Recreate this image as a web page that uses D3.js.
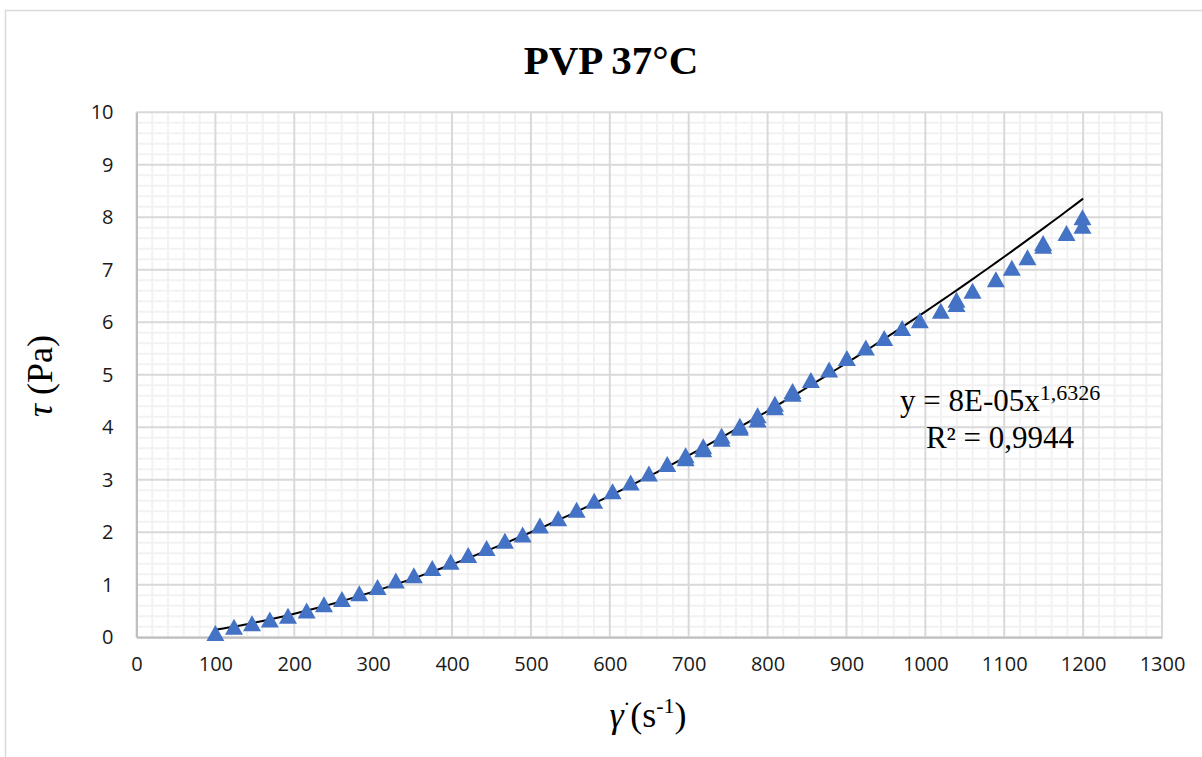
<!DOCTYPE html>
<html lang="en">
<head>
    <meta charset="UTF-8">
    <title>PVP 37°C</title>
    <script src="https://cdnjs.cloudflare.com/ajax/libs/d3/7.8.5/d3.min.js" charset="utf-8"></script>
    <style>
        body { margin: 0; background: #fff; }
    </style>
</head>
<body>
<svg id="chart" width="1202" height="757"></svg>

<script type="application/javascript">
    // shear rate (1/s) and shear stress (Pa)
    var shearRate = [100, 123.6, 146.4, 169, 192, 215.7, 237.6, 260.4, 282.4, 305.6,
        328.8, 351.6, 374.9, 398.2, 420.5, 443.8, 467, 489.5, 511.4, 534.6,
        557.9, 580.2, 603.5, 626.4, 649.6, 672.8, 696.1, 696.1, 718.4, 718.4,
        741.7, 741.7, 764.9, 764.9, 787.3, 787.3, 809.3, 809.3, 831.7, 831.7,
        854.9, 878.1, 900.5, 924.6, 947.8, 970.6, 993, 1019.6, 1039.5, 1039.5,
        1059.8, 1089.4, 1109.6, 1129.5, 1149.3, 1149.3, 1178.9, 1199.2, 1199.2];
    var shearStress = [0.08, 0.20, 0.27, 0.34, 0.41, 0.51, 0.63, 0.73, 0.84, 0.96,
        1.08, 1.18, 1.32, 1.44, 1.57, 1.70, 1.84, 1.96, 2.13, 2.27,
        2.43, 2.60, 2.78, 2.95, 3.12, 3.30, 3.47, 3.41, 3.64, 3.58,
        3.84, 3.78, 4.03, 3.99, 4.23, 4.15, 4.45, 4.38, 4.69, 4.64,
        4.90, 5.10, 5.32, 5.52, 5.70, 5.89, 6.04, 6.22, 6.43, 6.35,
        6.60, 6.82, 7.04, 7.24, 7.51, 7.46, 7.70, 8.00, 7.84];

    var xTicks = [0, 100, 200, 300, 400, 500, 600, 700, 800, 900, 1000, 1100, 1200, 1300];
    var yTicks = [0, 1, 2, 3, 4, 5, 6, 7, 8, 9, 10];

    // power trendline shown on the chart
    var trendA = 7.85e-5;
    var trendB = 1.6326;
    var trendRange = [100, 1200];

    var plot = {};
    plot.left = 136.5;
    plot.right = 1162;
    plot.top = 112.3;
    plot.bottom = 637.3;

    var serif = '"Times New Roman", "Liberation Serif", serif';
    var sans = '"Open Sans", Calibri, sans-serif';

    var svg = d3.select('#chart');

    var x = d3.scaleLinear().domain([0, 1300]).range([plot.left, plot.right]);
    var y = d3.scaleLinear().domain([0, 10]).range([plot.bottom, plot.top]);

    init();

    function init() {
        renderFrame();
        renderGrid();
        renderAxes();
        renderTrend();
        renderPoints();
        renderLabels();
    }

    function renderFrame() {
        svg.append('rect')
            .attr('x', 0).attr('y', 0)
            .attr('width', 1202).attr('height', 757)
            .attr('fill', '#fff');

        svg.append('rect')
            .attr('x', 5.5).attr('y', 10.5)
            .attr('width', 1210).attr('height', 800)
            .attr('fill', 'none')
            .attr('stroke', '#d9d9d9')
            .attr('stroke-width', 1.5);

        svg.append('text')
            .attr('x', 611)
            .attr('y', 74)
            .attr('text-anchor', 'middle')
            .attr('font-family', serif)
            .attr('font-weight', 'bold')
            .attr('font-size', '41px')
            .attr('fill', '#000')
            .text('PVP 37°C');
    }

    function renderGrid() {
        var grid = svg.append('g').attr('id', 'grid');

        var minorX = d3.range(0, 1300, 20).filter(function (d) { return d % 100 !== 0; });
        var minorY = d3.range(0, 10, 0.2).filter(function (d) { return Math.abs(d - Math.round(d)) > 1e-6; });

        grid.selectAll('.minor-x')
            .data(minorX)
            .enter()
            .append('line')
            .attr('x1', x).attr('x2', x)
            .attr('y1', plot.top).attr('y2', plot.bottom)
            .attr('stroke', '#f2f2f2')
            .attr('stroke-width', 2);

        grid.selectAll('.minor-y')
            .data(minorY)
            .enter()
            .append('line')
            .attr('y1', y).attr('y2', y)
            .attr('x1', plot.left).attr('x2', plot.right)
            .attr('stroke', '#f2f2f2')
            .attr('stroke-width', 2);

        grid.selectAll('.major-x')
            .data(xTicks)
            .enter()
            .append('line')
            .attr('x1', x).attr('x2', x)
            .attr('y1', plot.top).attr('y2', plot.bottom)
            .attr('stroke', '#d9d9d9')
            .attr('stroke-width', 2);

        grid.selectAll('.major-y')
            .data(yTicks)
            .enter()
            .append('line')
            .attr('y1', y).attr('y2', y)
            .attr('x1', plot.left).attr('x2', plot.right)
            .attr('stroke', '#d9d9d9')
            .attr('stroke-width', 2);
    }

    function renderAxes() {
        var xAxis = d3.axisBottom(x).tickValues(xTicks).tickFormat(d3.format('d')).tickSize(0).tickPadding(20);
        var yAxis = d3.axisLeft(y).tickValues(yTicks).tickFormat(d3.format('d')).tickSize(0).tickPadding(23);

        var gx = svg.append('g')
            .attr('transform', 'translate(0,' + plot.bottom + ')')
            .call(xAxis);
        var gy = svg.append('g')
            .attr('transform', 'translate(' + plot.left + ',0)')
            .call(yAxis);

        [gx, gy].forEach(function (g) {
            g.select('.domain').attr('stroke', '#bfbfbf').attr('stroke-width', 2);
            g.selectAll('text')
                .attr('font-family', sans)
                .attr('font-size', '20px')
                .attr('fill', '#1a1a1a');
        });
    }

    function renderTrend() {
        var xs = d3.range(trendRange[0], trendRange[1] + 1, 10);
        var line = d3.line()
            .x(function (d) { return x(d); })
            .y(function (d) { return y(trendA * Math.pow(d, trendB)); });

        svg.append('path')
            .datum(xs)
            .attr('d', line)
            .attr('fill', 'none')
            .attr('stroke', '#000')
            .attr('stroke-width', 2);
    }

    function renderPoints() {
        var w = 18, h = 16;
        var tri = 'M0,' + (-h / 2) + 'L' + (w / 2) + ',' + (h / 2) + 'L' + (-w / 2) + ',' + (h / 2) + 'Z';

        svg.append('g')
            .selectAll('path')
            .data(shearRate)
            .enter()
            .append('path')
            .attr('d', tri)
            .attr('transform', function (d, i) {
                return 'translate(' + x(d) + ',' + y(shearStress[i]) + ')';
            })
            .attr('fill', '#4472c4');
    }

    function renderLabels() {
        // equation of the trendline
        var eq = svg.append('text')
            .attr('x', 900)
            .attr('y', 411)
            .attr('font-family', serif)
            .attr('font-size', '31px')
            .attr('fill', '#000');
        eq.append('tspan').text('y = 8E-05x');
        eq.append('tspan')
            .attr('dy', -11)
            .attr('font-size', '22px')
            .text('1,6326');

        svg.append('text')
            .attr('x', 1000)
            .attr('y', 448)
            .attr('text-anchor', 'middle')
            .attr('font-family', serif)
            .attr('font-size', '31px')
            .attr('fill', '#000')
            .text('R² = 0,9944');

        // y axis title
        var yt = svg.append('text')
            .attr('transform', 'translate(52,376) rotate(-90)')
            .attr('text-anchor', 'middle')
            .attr('font-family', serif)
            .attr('font-size', '36px')
            .attr('fill', '#000');
        yt.append('tspan').attr('font-style', 'italic').text('τ');
        yt.append('tspan').text(' (Pa)');

        // x axis title
        var xt = svg.append('text')
            .attr('x', 648)
            .attr('y', 727)
            .attr('text-anchor', 'middle')
            .attr('font-family', serif)
            .attr('font-size', '36px')
            .attr('fill', '#000');
        xt.append('tspan').attr('font-style', 'italic').text('γ');
        xt.append('tspan').attr('font-size', '20px').attr('dy', -16).text('·');
        xt.append('tspan').attr('dy', 16).text('(s');
        xt.append('tspan').attr('font-size', '22px').attr('dy', -14).text('-1');
        xt.append('tspan').attr('dy', 14).text(')');
    }
</script>
</body>
</html>
